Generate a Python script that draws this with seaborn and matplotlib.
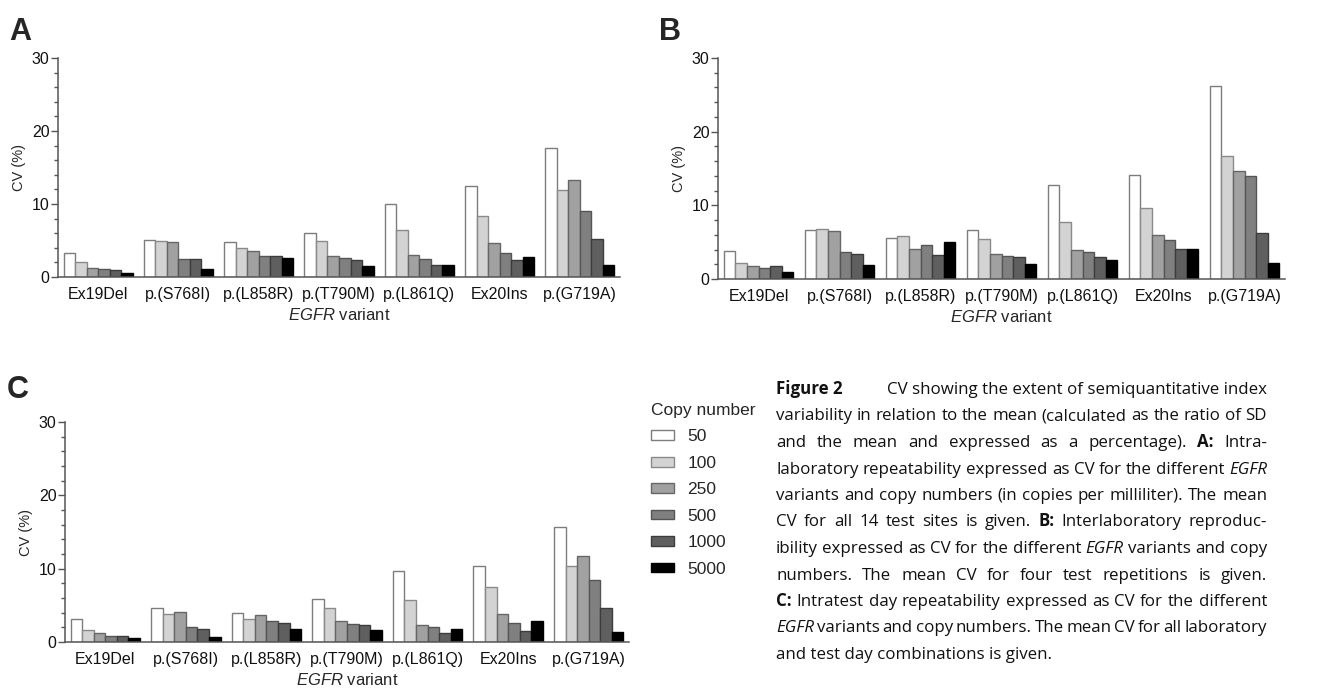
import matplotlib
matplotlib.use("Agg")
import numpy as np
import pandas as pd
import matplotlib.pyplot as plt
import seaborn as sns
from matplotlib.patches import Patch
from matplotlib.ticker import MultipleLocator

# Data
variants = ["Ex19Del", "p.(S768I)", "p.(L858R)", "p.(T790M)", "p.(L861Q)", "Ex20Ins", "p.(G719A)"]
copy_numbers = ["50", "100", "250", "500", "1000", "5000"]

# CV (%) per variant (rows) and copy number (columns)
cv_intralab = [
    [3.3, 2.1, 1.3, 1.1, 1.0, 0.5],
    [5.1, 5.0, 4.8, 2.5, 2.4, 1.1],
    [4.8, 4.0, 3.6, 2.9, 2.9, 2.6],
    [6.0, 5.0, 2.9, 2.6, 2.3, 1.5],
    [10.0, 6.4, 3.0, 2.5, 1.7, 1.7],
    [12.4, 8.3, 4.7, 3.3, 2.3, 2.7],
    [17.7, 11.9, 13.3, 9.0, 5.2, 1.7],
]
cv_interlab = [
    [3.8, 2.2, 1.7, 1.5, 1.7, 1.0],
    [6.7, 6.8, 6.5, 3.6, 3.4, 1.9],
    [5.6, 5.9, 4.1, 4.6, 3.2, 5.0],
    [6.7, 5.4, 3.4, 3.1, 3.0, 2.0],
    [12.8, 7.8, 4.0, 3.7, 3.0, 2.6],
    [14.1, 9.6, 6.0, 5.3, 4.1, 4.1],
    [26.2, 16.7, 14.6, 14.0, 6.3, 2.2],
]
cv_intraday = [
    [3.1, 1.7, 1.2, 0.85, 0.85, 0.5],
    [4.6, 3.8, 4.1, 2.0, 1.8, 0.75],
    [3.95, 3.1, 3.7, 2.8, 2.6, 1.8],
    [5.8, 4.7, 2.8, 2.5, 2.3, 1.6],
    [9.7, 5.7, 2.3, 2.1, 1.2, 1.8],
    [10.4, 7.5, 3.8, 2.6, 1.55, 2.8],
    [15.7, 10.4, 11.7, 8.4, 4.6, 1.3],
]

caption_lines = [
    "Figure 2 CV showing the extent of semiquantitative index",
    "variability in relation to the mean (calculated as the ratio of SD",
    "and the mean and expressed as a percentage). A: Intra-",
    "laboratory repeatability expressed as CV for the different EGFR",
    "variants and copy numbers (in copies per milliliter). The mean",
    "CV for all 14 test sites is given. B: Interlaboratory reproduc-",
    "ibility expressed as CV for the different EGFR variants and copy",
    "numbers. The mean CV for four test repetitions is given.",
    "C: Intratest day repeatability expressed as CV for the different",
    "EGFR variants and copy numbers. The mean CV for all laboratory",
    "and test day combinations is given.",
]

bar_colors = ["#ffffff", "#d3d3d3", "#a1a1a1", "#808080", "#5f5f5f", "#000000"]
edge_colors = ["#7c7c7c", "#8a8a8a", "#676767", "#555555", "#3c3c3c", "#000000"]

sns.set_theme(style="ticks")
plt.rcParams["font.family"] = ["Liberation Sans", "DejaVu Sans"]
plt.rcParams["mathtext.fontset"] = "custom"
plt.rcParams["mathtext.rm"] = "Liberation Sans"
plt.rcParams["mathtext.it"] = "Liberation Sans:italic"

W, H = 1333, 690
fig = plt.figure(figsize=(W / 100, H / 100), dpi=100)


def px_axes(left, top, right, bottom):
    return fig.add_axes([left / W, 1 - bottom / H, (right - left) / W, (bottom - top) / H])


def to_long(values):
    rows = []
    for v, row in zip(variants, values):
        for c, val in zip(copy_numbers, row):
            rows.append({"variant": v, "copy": c, "cv": val})
    return pd.DataFrame(rows)


def draw_panel(ax, values):
    df = to_long(values)
    sns.barplot(data=df, x="variant", y="cv", hue="copy", order=variants,
                hue_order=copy_numbers, palette=bar_colors, width=0.86, gap=0,
                linewidth=1.0, legend=False, ax=ax)
    for cont, ec in zip(ax.containers, edge_colors):
        for bar in cont:
            bar.set_edgecolor(ec)
    ax.set_xlim(-0.5, len(variants) - 0.5)
    ax.set_ylim(0, 30)
    ax.yaxis.set_major_locator(MultipleLocator(10))
    ax.yaxis.set_minor_locator(MultipleLocator(2))
    ax.tick_params(axis="y", which="major", length=5, width=1, color="#555555",
                   labelsize=11.5, pad=1, labelcolor="#111111")
    ax.tick_params(axis="y", which="minor", length=3, width=1, color="#555555")
    ax.tick_params(axis="x", length=0, labelsize=11.5, pad=7, labelcolor="#111111")
    sns.despine(ax=ax)
    for s in ["left", "bottom"]:
        ax.spines[s].set_color("#555555")
        ax.spines[s].set_linewidth(1.1)
    ax.set_ylabel("CV (%)", fontsize=10.5, labelpad=4)
    ax.set_xlabel(r"$\mathit{EGFR}$ variant", fontsize=12, labelpad=4)


ax_a = px_axes(58, 58, 620, 277)
ax_b = px_axes(718, 58, 1285, 279)
ax_c = px_axes(65, 422, 629, 642)
draw_panel(ax_a, cv_intralab)
draw_panel(ax_b, cv_interlab)
draw_panel(ax_c, cv_intraday)

for letter, x, y in [("A", 9, 40), ("B", 659, 40), ("C", 7, 398)]:
    fig.text(x / W, 1 - y / H, letter, fontsize=22, fontweight="bold", va="baseline")

handles = [Patch(facecolor=fc, edgecolor=ec, linewidth=1.0)
           for fc, ec in zip(bar_colors, edge_colors)]
fig.legend(handles, copy_numbers, title="Copy number", loc="upper left",
           bbox_to_anchor=(651 / W, 1 - 403 / H), frameon=False, fontsize=12.5,
           title_fontsize=12.5, handlelength=1.35, handleheight=0.48,
           labelspacing=0.66, handletextpad=0.75, borderpad=0, borderaxespad=0,
           alignment="left")

# Justified caption
cap_font = ["Liberation Sans Narrow", "Open Sans", "DejaVu Sans"]
cap_size = 12.2
x0, x1 = 776, 1267
base0, step = 394, 26.5
renderer = fig.canvas.get_renderer()


def word_style(w):
    if w in ("A:", "B:", "C:") or w == "Figure 2":
        return dict(fontweight="bold")
    if w == "EGFR":
        return dict(fontstyle="italic")
    return {}


def put(word, y):
    return fig.text(0, 1 - y / H, word, family=cap_font, fontsize=cap_size,
                    va="baseline", color="#111111", **word_style(word))


for i, line in enumerate(caption_lines):
    y = base0 + i * step
    if i == 0:
        put("Figure 2", y).set_x(x0 / W)
        t = put(line[len("Figure 2 "):], y)
        t.set_x(x1 / W)
        t.set_ha("right")
        continue
    if i == len(caption_lines) - 1:
        put(line, y).set_x(x0 / W)
        continue
    words = line.split(" ")
    texts = [put(w, y) for w in words]
    widths = [t.get_window_extent(renderer).width for t in texts]
    gap = (x1 - x0 - sum(widths)) / (len(words) - 1)
    x = x0
    for t, w in zip(texts, widths):
        t.set_x(x / W)
        x += w + gap

fig.savefig("out.png", dpi=100)
